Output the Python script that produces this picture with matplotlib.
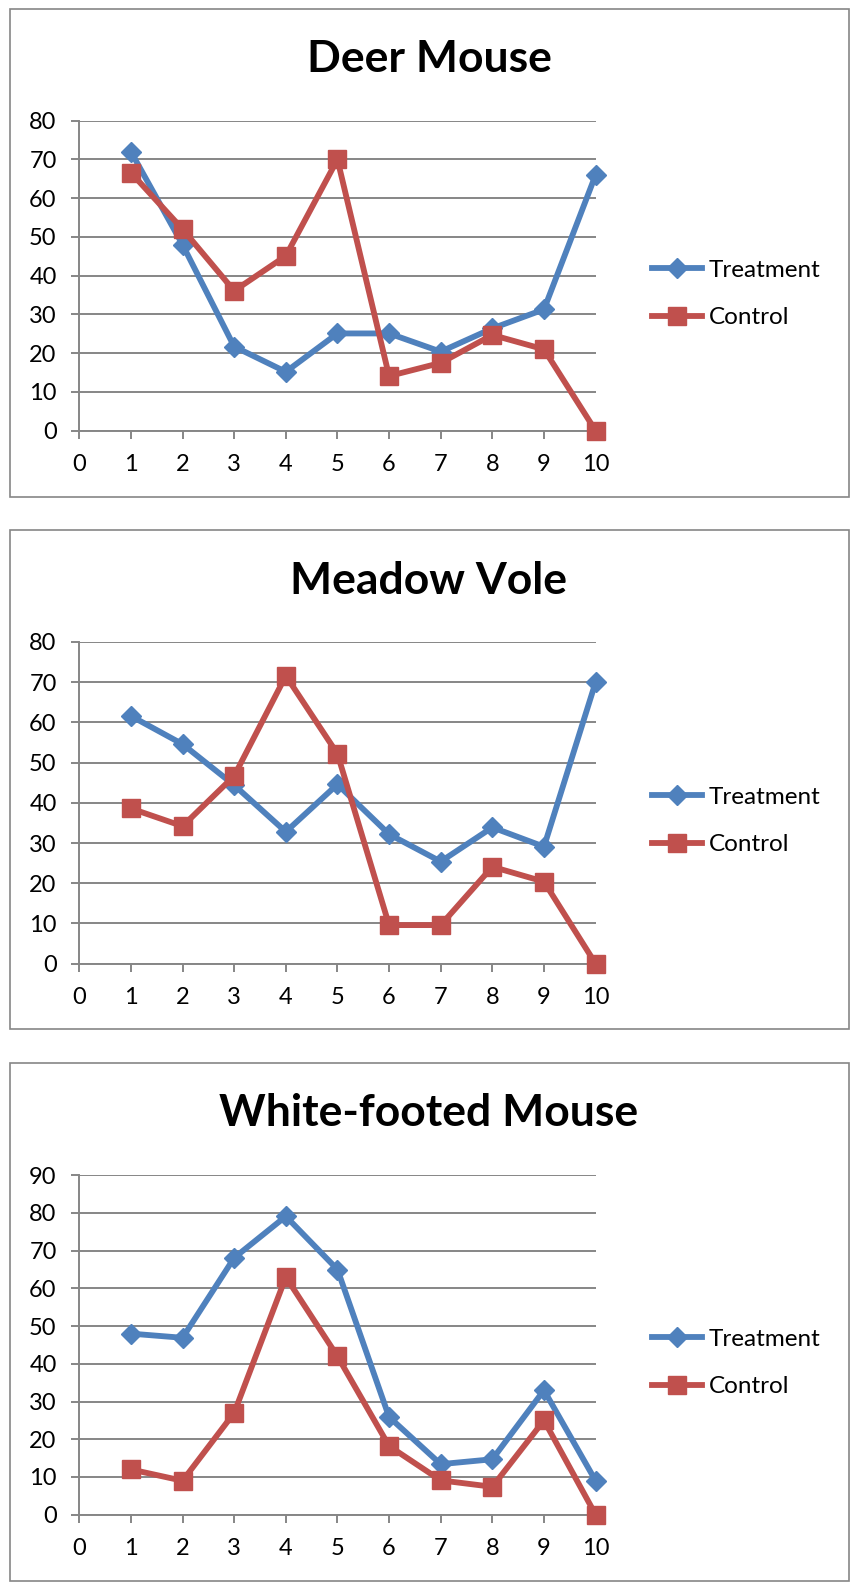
import matplotlib
matplotlib.use("Agg")
import matplotlib.pyplot as plt
from matplotlib.patches import Rectangle
from matplotlib.lines import Line2D

plt.rcParams['font.family'] = ['Lato', 'DejaVu Sans']

x_vals = [1, 2, 3, 4, 5, 6, 7, 8, 9, 10]
x_ticks = [0, 1, 2, 3, 4, 5, 6, 7, 8, 9, 10]

titles = ["Deer Mouse", "Meadow Vole", "White-footed Mouse"]
series_names = ["Treatment", "Control"]

deer_treatment = [72, 48, 21.7, 15.2, 25.1, 25.1, 20.4, 26.4, 31.3, 66]
deer_control = [66.6, 52, 36.1, 45.1, 70, 14.1, 17.5, 24.7, 21, 0]

vole_treatment = [61.6, 54.6, 44.4, 32.8, 44.6, 32.2, 25.4, 33.9, 29.1, 70]
vole_control = [38.6, 34.2, 46.7, 71.6, 52.2, 9.6, 9.6, 24.1, 20.4, 0]

wf_treatment = [48, 46.9, 68.1, 79.1, 65, 25.9, 13.4, 14.7, 33, 9]
wf_control = [12, 9, 27, 63, 42, 18.2, 9.1, 7.4, 25, 0]

y_max = [80, 80, 90]

BLUE = '#4F81BD'
RED = '#C0504D'
GRAY = '#868686'

W, H = 851, 1585
fig = plt.figure(figsize=(W / 100, H / 100), dpi=100)

def fx(p):
    return p / W

def fy(p):
    return 1 - p / H

# panel geometry in pixels
panels = [
    dict(border=(10, 9, 849, 497), ytop=120.7, ybot=430.7, title_y=59, leg_y=270),
    dict(border=(10, 530, 849, 1029), ytop=642, ybot=963.7, title_y=581, leg_y=797),
    dict(border=(10, 1063, 849, 1581), ytop=1175.2, ybot=1514.7, title_y=1113, leg_y=1339),
]
data = [(deer_treatment, deer_control), (vole_treatment, vole_control), (wf_treatment, wf_control)]

x_left, x_right = 79.3, 595.6

for i, p in enumerate(panels):
    bx0, by0, bx1, by1 = p['border']
    fig.patches.append(Rectangle((fx(bx0), fy(by1)), fx(bx1 - bx0), (by1 - by0) / H,
                                 transform=fig.transFigure, fill=False,
                                 edgecolor=GRAY, linewidth=1.2, zorder=0))
    ax = fig.add_axes([fx(x_left), fy(p['ybot']), fx(x_right - x_left), (p['ybot'] - p['ytop']) / H])
    ax.set_xlim(0, 10)
    ax.set_ylim(0, y_max[i])
    ax.set_yticks(list(range(0, y_max[i] + 1, 10)))
    ax.set_xticks(x_ticks)
    ax.grid(axis='y', color=GRAY, linewidth=1.4)
    ax.set_axisbelow(True)
    for s in ['top', 'right']:
        ax.spines[s].set_visible(False)
    for s in ['left', 'bottom']:
        ax.spines[s].set_color(GRAY)
        ax.spines[s].set_linewidth(1.4)
    ax.tick_params(axis='both', direction='out', length=5.8, width=1.4, color=GRAY,
                   labelsize=17, labelcolor='black')
    ax.tick_params(axis='y', pad=10.5)
    ax.tick_params(axis='x', pad=11)

    tr, ct = data[i]
    l1, = ax.plot(x_vals, tr, color=BLUE, linewidth=4.2, marker='D', markersize=10.5,
                  clip_on=False, zorder=3, label=series_names[0])
    l2, = ax.plot(x_vals, ct, color=RED, linewidth=4.2, marker='s', markersize=13.5,
                  clip_on=False, zorder=4, label=series_names[1])

    fig.text(fx(429), fy(p['title_y']), titles[i], ha='center', va='center',
             fontsize=32, fontweight='bold')

    fig.legend(handles=[l1, l2], loc='center left',
               bbox_to_anchor=(fx(652), fy(p['leg_y'] + 24)),
               bbox_transform=fig.transFigure, frameon=False, fontsize=17.5,
               handlelength=2.06, handletextpad=0.28, labelspacing=1.1,
               borderpad=0, borderaxespad=0)

fig.savefig("out.png", dpi=100)
